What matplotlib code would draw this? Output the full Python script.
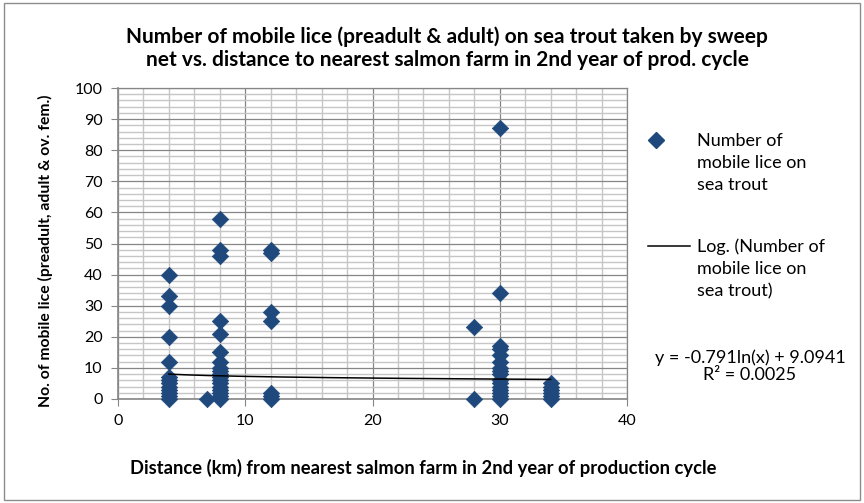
import numpy as np
import matplotlib.pyplot as plt
from matplotlib.patches import Rectangle
from matplotlib.ticker import MultipleLocator

plt.rcParams['font.family'] = ['Lato', 'DejaVu Sans']

# distance (km) to nearest salmon farm, one entry per fish
distance_km = (
    [4] * 13 + [7] + [8] * 18 + [12] * 7 + [28] * 2 + [30] * 16 + [34] * 6
)
# mobile lice counts, same order as distance_km
lice_count = (
    [40, 33, 30, 20, 12, 7, 6, 5, 4, 3, 2, 1, 0]
    + [0]
    + [58, 48, 46, 25, 21, 15, 12, 10, 9, 8, 7, 6, 5, 4, 3, 2, 1, 0]
    + [48, 47, 28, 25, 2, 1, 0]
    + [23, 0]
    + [87, 34, 17, 16, 14, 12, 10, 9, 8, 6, 5, 4, 3, 2, 1, 0]
    + [5, 4, 3, 2, 1, 0]
)

# logarithmic trendline coefficients as printed on the chart
trend_slope = -0.791
trend_intercept = 9.0941
trend_r2 = 0.0025

title = ("Number of mobile lice (preadult & adult) on sea trout taken by sweep\n"
         "net vs. distance to nearest salmon farm in 2nd year of prod. cycle")
xlabel = "Distance (km) from nearest salmon farm in 2nd year of production cycle"
ylabel = "No. of mobile lice (preadult, adult & ov. fem.)"
series_label = "Number of\nmobile lice on\nsea trout"
trend_label = "Log. (Number of\nmobile lice on\nsea trout)"

W, H = 864, 503
fig = plt.figure(figsize=(W / 100, H / 100), dpi=100)
fig.patch.set_facecolor('white')
fig.patches.append(Rectangle((4 / W, 3 / H), 856 / W, 497 / H, transform=fig.transFigure,
                             fill=False, edgecolor='#8c8c8c', linewidth=1.0))

ax = fig.add_axes([118 / W, (H - 399) / H, 509 / W, 311 / H])

ax.set_xlim(0, 40)
ax.set_ylim(0, 100)
ax.xaxis.set_major_locator(MultipleLocator(10))
ax.xaxis.set_minor_locator(MultipleLocator(2))
ax.yaxis.set_major_locator(MultipleLocator(10))
ax.yaxis.set_minor_locator(MultipleLocator(2))
ax.grid(which='minor', color='#c6c6c6', linewidth=1.0)
ax.grid(which='major', color='#868686', linewidth=0.9)
ax.set_axisbelow(True)

for side in ['top', 'right']:
    ax.spines[side].set_color('#868686')
    ax.spines[side].set_linewidth(0.9)
for side in ['left', 'bottom']:
    ax.spines[side].set_color('#868686')
    ax.spines[side].set_linewidth(1.2)

ax.tick_params(which='major', direction='out', length=5, color='#868686',
               labelsize=11.5, pad=6)
ax.tick_params(which='minor', length=0)

ax.scatter(distance_km, lice_count, marker='D', s=70, color='#1f497d',
           edgecolors='#1f497d', linewidths=0.5, zorder=3, clip_on=False)

xs = np.linspace(min(distance_km), max(distance_km), 200)
ax.plot(xs, trend_slope * np.log(xs) + trend_intercept, color='black',
        linewidth=1.1, zorder=4)

fig.text(447 / W, 1 - 48 / H, title, ha='center', va='center', fontsize=15,
         fontweight='bold', linespacing=1.2)
fig.text(423 / W, 1 - 468 / H, xlabel, ha='center', va='center', fontsize=13.2,
         fontweight='bold')
fig.text(45 / W, 1 - 251 / H, ylabel, ha='center', va='center', fontsize=11.3,
         fontweight='bold', rotation=90)

# legend, laid out like the Excel one
fig.lines.append(plt.Line2D([656 / W], [1 - 140 / H], marker='D', markersize=8,
                            color='#1f497d', transform=fig.transFigure))
fig.text(697 / W, 1 - 163 / H, series_label, ha='left', va='center', fontsize=13,
         linespacing=1.45)
fig.lines.append(plt.Line2D([648 / W, 690 / W], [1 - 246 / H, 1 - 246 / H],
                            color='black', linewidth=1.1, transform=fig.transFigure))
fig.text(697 / W, 1 - 269 / H, trend_label, ha='left', va='center', fontsize=13,
         linespacing=1.45)

fig.text(750 / W, 1 - 366 / H,
         f"y = {trend_slope}ln(x) + {trend_intercept}\nR\u00b2 = {trend_r2}",
         ha='center', va='center', fontsize=13, linespacing=1.1)

fig.savefig('out.png', dpi=100)
